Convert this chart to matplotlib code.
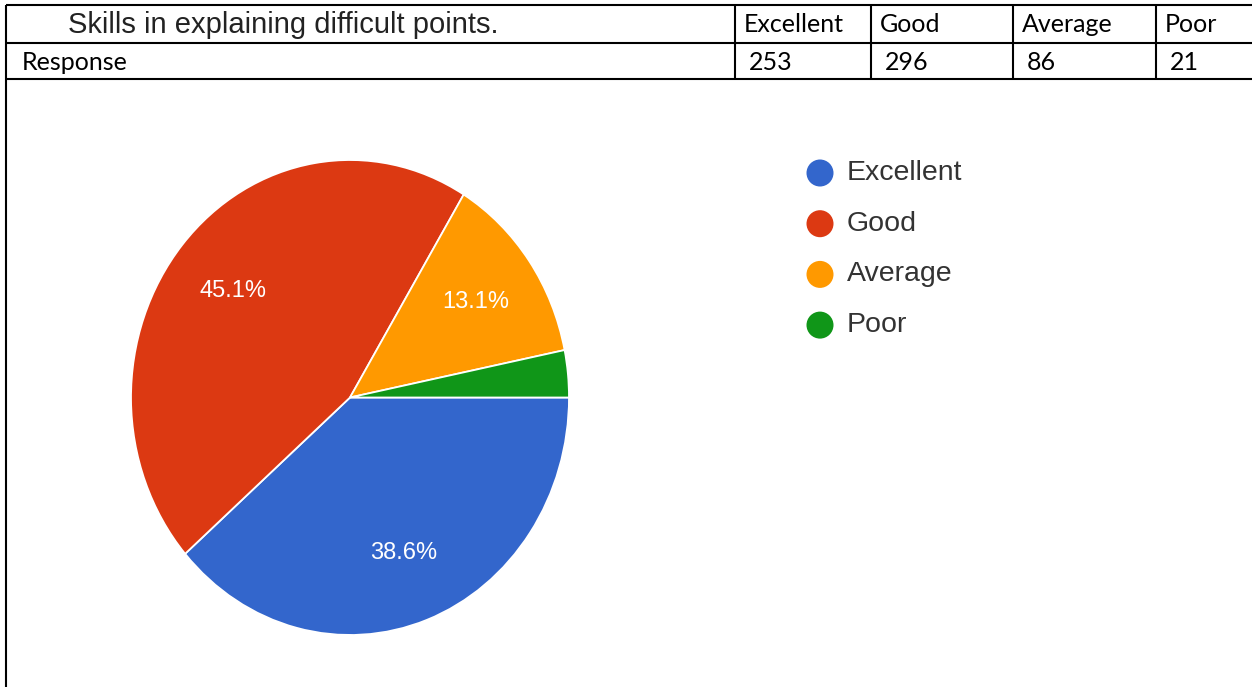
import matplotlib
matplotlib.use("Agg")
import matplotlib.pyplot as plt
from matplotlib.patches import Ellipse

# ---- data ----
title_text = "Skills in explaining difficult points."
row_label = "Response"
categories = ["Excellent", "Good", "Average", "Poor"]
responses = [253, 296, 86, 21]
colors = ["#3366CC", "#DC3912", "#FF9900", "#109618"]

W, H = 1252, 687
fig = plt.figure(figsize=(W / 100, H / 100), dpi=100)
fig.patch.set_facecolor("white")

# overlay axes in pixel coordinates for table / frame / legend
ov = fig.add_axes([0, 0, 1, 1])
ov.set_xlim(0, W)
ov.set_ylim(H, 0)
ov.axis("off")

lw = 1.5
# table horizontal lines
for y in (5, 43, 79):
    ov.plot([6, W + 5], [y, y], color="black", lw=lw, solid_capstyle="butt")
# left border through table and chart box
ov.plot([6, 6], [5, H + 5], color="black", lw=lw, solid_capstyle="butt")
# column separators
col_x = [735, 871, 1013, 1156]
for x in col_x:
    ov.plot([x, x], [5, 79], color="black", lw=lw, solid_capstyle="butt")

ov.text(68, 25, title_text, fontsize=21, family="Liberation Sans",
        color="#222222", va="center", ha="left")
ov.text(22, 62, row_label, fontsize=18, family="Lato", color="black",
        va="center", ha="left")
for x, cat, val in zip(col_x, categories, responses):
    ov.text(x + 9, 25, cat, fontsize=18, family="Lato", color="black",
            va="center", ha="left")
    ov.text(x + 14, 62, str(val), fontsize=18, family="Lato", color="black",
            va="center", ha="left")

# legend
for i, (cat, col) in enumerate(zip(categories, colors)):
    yc = 173 + i * 50.7
    ov.add_patch(Ellipse((820, yc), 27, 27, color=col, lw=0))
    ov.text(847, yc, cat, fontsize=20.5, family="Liberation Sans",
            color="#333333", va="center", ha="left")

# pie
cx, cy, rx, ry = 350, 397.5, 219, 237.5
ax = fig.add_axes([(cx - rx) / W, (H - (cy + ry)) / H, 2 * rx / W, 2 * ry / H])


def fmt(p):
    return f"{p:.1f}%" if p >= 5 else ""


wedges, texts, autotexts = ax.pie(
    responses, colors=colors, startangle=0, counterclock=False,
    autopct=fmt, pctdistance=0.7,
    wedgeprops=dict(edgecolor="white", linewidth=1.3),
    textprops=dict(color="white", fontsize=17, family="Liberation Sans"),
)
ax.set_aspect("auto")
ax.set_xlim(-1, 1)
ax.set_ylim(-1, 1)
ax.axis("off")

fig.savefig("out.png", dpi=100, facecolor="white")
